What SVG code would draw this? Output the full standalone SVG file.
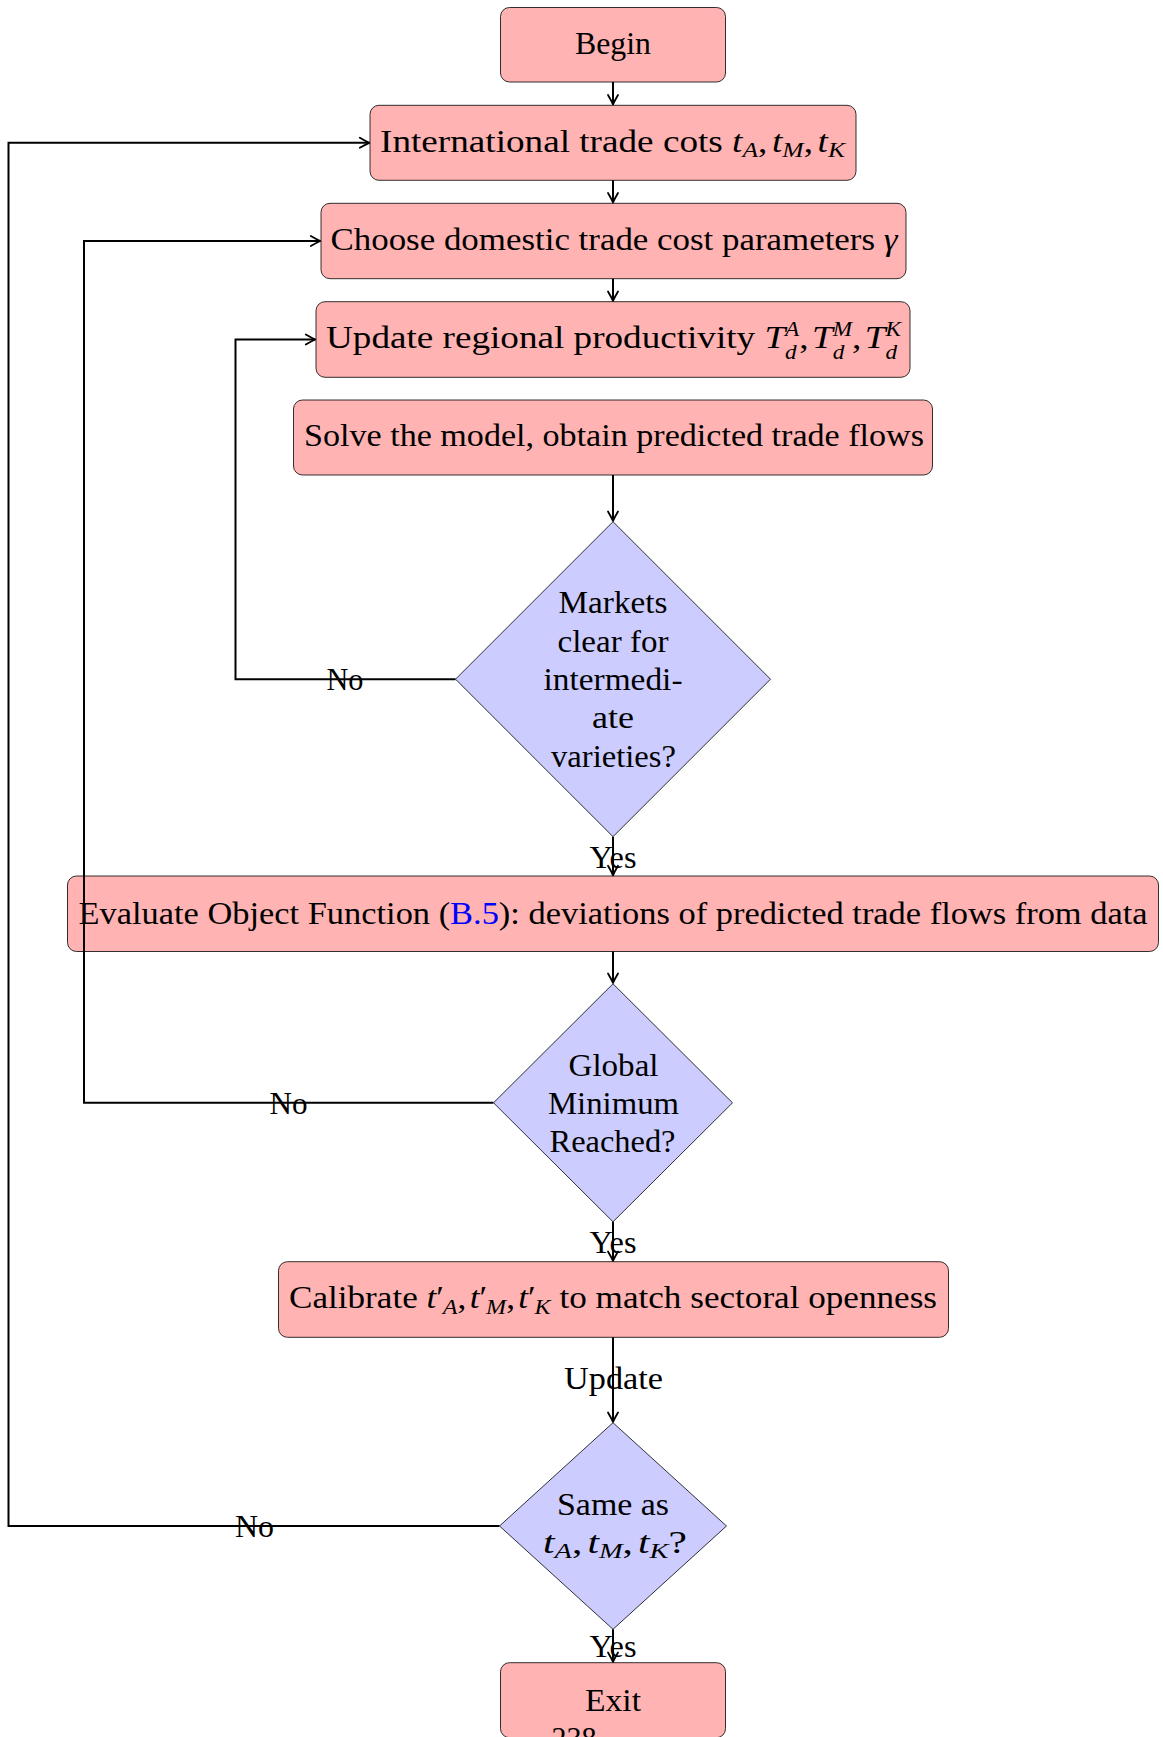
<svg xmlns="http://www.w3.org/2000/svg" width="1163" height="1737" viewBox="0 0 1163 1737">
<style>
.box{fill:#FFB3B3;stroke:#000;stroke-width:0.8}
.dia{fill:#CCCCFF;stroke:#000;stroke-width:0.8}
text{font-family:"Liberation Serif","Times New Roman",serif;font-size:32px;fill:#000}
.c{text-anchor:middle}
.m{font-style:italic}
.s{font-size:22px}
.s2{font-size:20px}
.conn{fill:none;stroke:#000;stroke-width:2}
.lnk{fill:#0000FF}
</style>
<defs>
<marker id="arr" markerUnits="userSpaceOnUse" viewBox="-12 -7 14 14" refX="0" refY="0" markerWidth="14" markerHeight="14" orient="auto" overflow="visible">
<path d="M-9.5,-5 Q-3.5,-1.5 0,0 Q-3.5,1.5 -9.5,5" fill="none" stroke="#000" stroke-width="1.8" stroke-linecap="round" stroke-linejoin="round"/>
</marker>
</defs>
<rect width="1163" height="1737" fill="#fff"/>

<g id="begin">
<rect class="box" x="500.5" y="7.5" width="225" height="74.5" rx="9"/>
<text class="c" x="613" y="53.5" textLength="76" lengthAdjust="spacingAndGlyphs">Begin</text>
</g>

<g id="intl">
<rect class="box" x="370" y="105.3" width="486" height="75" rx="9"/>
<text class="c" x="612.5" y="152" textLength="465" lengthAdjust="spacingAndGlyphs">International trade cots <tspan class="m">t</tspan><tspan class="s m" dy="5">A</tspan><tspan dy="-5">,</tspan><tspan class="m" dx="4">t</tspan><tspan class="s m" dy="5">M</tspan><tspan dy="-5">,</tspan><tspan class="m" dx="4">t</tspan><tspan class="s m" dy="5">K</tspan></text>
</g>

<g id="choose">
<rect class="box" x="321" y="203.3" width="585" height="75.4" rx="9"/>
<text class="c" x="614" y="250" textLength="567" lengthAdjust="spacingAndGlyphs">Choose domestic trade cost parameters <tspan class="m">γ</tspan></text>
</g>

<g id="update">
<rect class="box" x="316" y="301.7" width="594" height="75.6" rx="9"/>
<text class="c" x="613.5" y="347.5" textLength="575" lengthAdjust="spacingAndGlyphs">Update regional productivity <tspan class="m">T</tspan><tspan class="s2 m" dy="-11.5">A</tspan><tspan class="s2 m" dx="-12.2" dy="22.5">d</tspan><tspan dx="2.2" dy="-11">,</tspan><tspan class="m" dx="3">T</tspan><tspan class="s2 m" dy="-11.5">M</tspan><tspan class="s2 m" dx="-16.7" dy="22.5">d</tspan><tspan dx="6.7" dy="-11">,</tspan><tspan class="m" dx="3">T</tspan><tspan class="s2 m" dy="-11.5">K</tspan><tspan class="s2 m" dx="-13.3" dy="22.5">d</tspan><tspan dx="3.3" dy="-11"> </tspan></text>
</g>

<g id="solve">
<rect class="box" x="293.5" y="400" width="639" height="75" rx="9"/>
<text class="c" x="614" y="446" textLength="620" lengthAdjust="spacingAndGlyphs">Solve the model, obtain predicted trade flows</text>
</g>

<g id="markets">
<polygon class="dia" points="613,521.7 770.5,679.2 613,836.7 455.5,679.2"/>
<text class="c" x="613" y="613.3" textLength="109" lengthAdjust="spacingAndGlyphs">Markets</text>
<text class="c" x="613" y="651.7" textLength="111" lengthAdjust="spacingAndGlyphs">clear for</text>
<text class="c" x="613" y="690" textLength="139" lengthAdjust="spacingAndGlyphs">intermedi-</text>
<text class="c" x="613" y="728.3" textLength="42" lengthAdjust="spacingAndGlyphs">ate</text>
<text class="c" x="613.5" y="766.7" textLength="125" lengthAdjust="spacingAndGlyphs">varieties?</text>
</g>

<g id="evaluate">
<rect class="box" x="67.5" y="876" width="1091" height="75.5" rx="9"/>
<text class="c" x="613" y="923.5" textLength="1069" lengthAdjust="spacingAndGlyphs">Evaluate Object Function (<tspan class="lnk">B.5</tspan>): deviations of predicted trade flows from data</text>
</g>

<g id="global">
<polygon class="dia" points="613,983.8 732.5,1102.8 613,1221.8 493.5,1102.8"/>
<text class="c" x="613.5" y="1075.5" textLength="90" lengthAdjust="spacingAndGlyphs">Global</text>
<text class="c" x="613.5" y="1113.5" textLength="131" lengthAdjust="spacingAndGlyphs">Minimum</text>
<text class="c" x="612.5" y="1151.7" textLength="126" lengthAdjust="spacingAndGlyphs">Reached?</text>
</g>

<g id="calibrate">
<rect class="box" x="278.5" y="1261.7" width="670" height="75.6" rx="9"/>
<text class="c" x="613" y="1307.5" textLength="648" lengthAdjust="spacingAndGlyphs">Calibrate <tspan class="m">t</tspan><tspan>′</tspan><tspan class="s m" dx="-1" dy="6">A</tspan><tspan dy="-6">,</tspan><tspan class="m" dx="3">t</tspan><tspan>′</tspan><tspan class="s m" dx="-1" dy="6">M</tspan><tspan dy="-6">,</tspan><tspan class="m" dx="3">t</tspan><tspan>′</tspan><tspan class="s m" dx="-1" dy="6">K</tspan><tspan dy="-6"> to match sectoral openness</tspan></text>
</g>

<g id="same">
<polygon class="dia" points="613,1422.7 726.5,1526 613,1629.3 499.5,1526"/>
<text class="c" x="613" y="1515" textLength="112" lengthAdjust="spacingAndGlyphs">Same as</text>
<text class="c" x="615" y="1553" textLength="144" lengthAdjust="spacingAndGlyphs"><tspan class="m">t</tspan><tspan class="s m" dy="5">A</tspan><tspan dy="-5">,</tspan><tspan class="m" dx="4">t</tspan><tspan class="s m" dy="5">M</tspan><tspan dy="-5">,</tspan><tspan class="m" dx="4">t</tspan><tspan class="s m" dy="5">K</tspan><tspan dy="-5">?</tspan></text>
</g>

<g id="exit">
<rect class="box" x="500.5" y="1662.7" width="225" height="75" rx="9"/>
<text class="c" x="613" y="1710.7" textLength="56" lengthAdjust="spacingAndGlyphs">Exit</text>
</g>

<text class="c" x="574" y="1749" textLength="45" lengthAdjust="spacingAndGlyphs">238</text>

<g id="connectors">
<path class="conn" d="M613,82 V104.5" marker-end="url(#arr)"/>
<path class="conn" d="M613,180.3 V202.5" marker-end="url(#arr)"/>
<path class="conn" d="M613,278.7 V301" marker-end="url(#arr)"/>
<path class="conn" d="M613,475 V521" marker-end="url(#arr)"/>
<path class="conn" d="M613,836.7 V875.3" marker-end="url(#arr)"/>
<path class="conn" d="M613,951.5 V983" marker-end="url(#arr)"/>
<path class="conn" d="M613,1221.8 V1261" marker-end="url(#arr)"/>
<path class="conn" d="M613,1337.3 V1422" marker-end="url(#arr)"/>
<path class="conn" d="M613,1629.3 V1662" marker-end="url(#arr)"/>
<path class="conn" d="M455.5,679.2 H235.5 V339.5 H315.3" marker-end="url(#arr)"/>
<path class="conn" d="M493.5,1102.8 H84 V241 H320.3" marker-end="url(#arr)"/>
<path class="conn" d="M499.5,1526 H8.5 V142.8 H369.3" marker-end="url(#arr)"/>
<text class="c" x="613" y="868" textLength="47" lengthAdjust="spacingAndGlyphs">Yes</text>
<text class="c" x="613" y="1252.5" textLength="47" lengthAdjust="spacingAndGlyphs">Yes</text>
<text class="c" x="613" y="1656.5" textLength="47" lengthAdjust="spacingAndGlyphs">Yes</text>
<text class="c" x="613.5" y="1388.5" textLength="99" lengthAdjust="spacingAndGlyphs">Update</text>
<text class="c" x="345" y="690" textLength="37" lengthAdjust="spacingAndGlyphs">No</text>
<text class="c" x="288.5" y="1113.5" textLength="38" lengthAdjust="spacingAndGlyphs">No</text>
<text class="c" x="254.5" y="1536.5" textLength="39" lengthAdjust="spacingAndGlyphs">No</text>
</g>
</svg>
